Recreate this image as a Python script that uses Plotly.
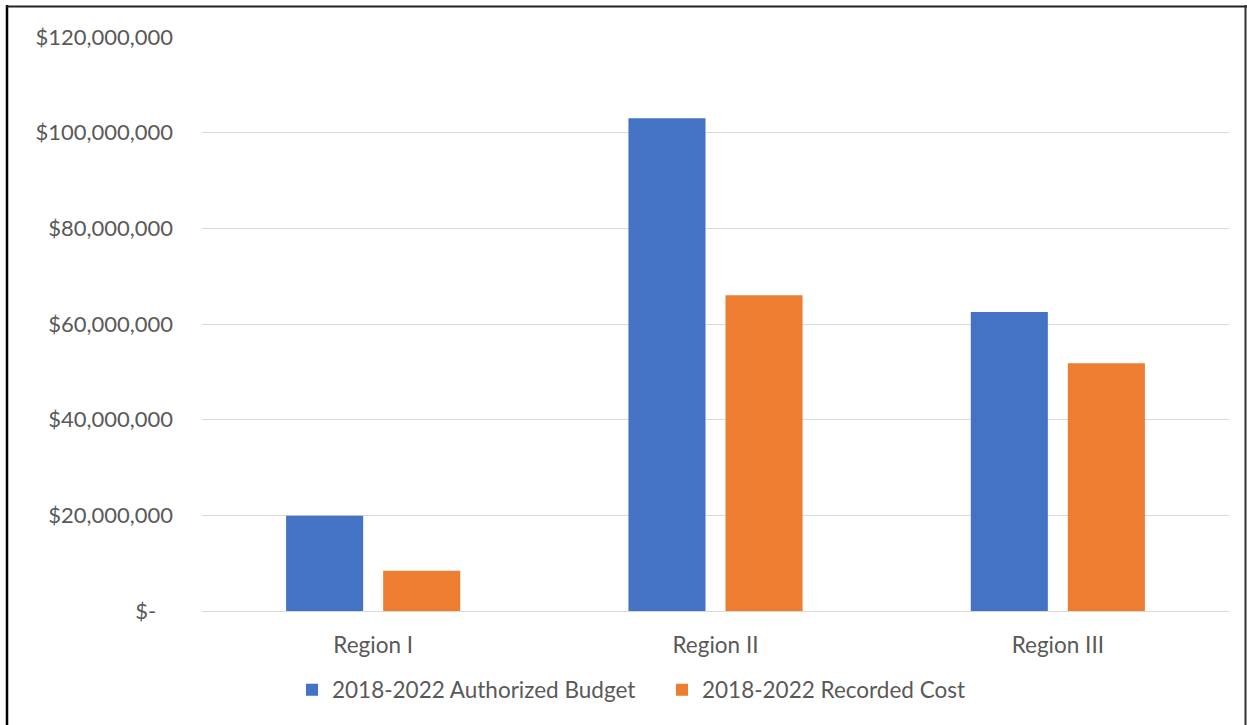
import plotly.graph_objects as go

categories = ["Region I", "Region II", "Region III"]
budget = [19.9e6, 103.0e6, 62.5e6]
cost = [8.4e6, 66.0e6, 51.8e6]
series_names = ["2018-2022 Authorized Budget", "2018-2022 Recorded Cost"]
tick_vals = [0, 20e6, 40e6, 60e6, 80e6, 100e6, 120e6]
tick_text = ["$-\u00a0\u00a0\u00a0", "$20,000,000", "$40,000,000", "$60,000,000",
             "$80,000,000", "$100,000,000", "$120,000,000"]

W, H = 1247, 725
ML, MR, MT, MB = 202, 18, 37, 114
FONT = "Lato, 'Open Sans', sans-serif"
GRAY = "#595959"

fig = go.Figure()
fig.add_trace(go.Bar(x=categories, y=budget, name=series_names[0], marker_color="#4472C4",
                     marker_line_width=0))
fig.add_trace(go.Bar(x=categories, y=cost, name=series_names[1], marker_color="#ED7D31",
                     marker_line_width=0))

pw = W - ML - MR
ph = H - MT - MB
def px(x):
    return (x - ML) / pw
def py(y):
    return (H - MB - y) / ph

shapes = [
    dict(type="line", xref="paper", yref="paper", x0=px(7), x1=px(7), y0=py(5), y1=py(H + 5),
         line=dict(color="black", width=2.5)),
    dict(type="line", xref="paper", yref="paper", x0=px(6), x1=px(1247), y0=py(6.5), y1=py(6.5),
         line=dict(color="#222222", width=2)),
    dict(type="line", xref="paper", yref="paper", x0=px(1245.5), x1=px(1245.5), y0=py(5), y1=py(H + 5),
         line=dict(color="#333333", width=2)),
]

fig.update_layout(
    width=W, height=H,
    margin=dict(l=ML, r=MR, t=MT, b=MB),
    paper_bgcolor="white", plot_bgcolor="white",
    barmode="group", bargap=0.433, bargroupgap=0.206,
    font=dict(family=FONT, size=22, color=GRAY),
    showlegend=True,
    legend=dict(orientation="h", x=px(292), xanchor="left", y=py(690), yanchor="middle",
                font=dict(family=FONT, size=22.5, color=GRAY),
                itemwidth=30, tracegroupgap=0, entrywidth=325, entrywidthmode="pixels"),
    xaxis=dict(showgrid=False, showline=False, ticks="", tickfont=dict(size=22.5, color=GRAY),
               ticklabelstandoff=18),
    yaxis=dict(range=[0, 120e6], tickvals=tick_vals, ticktext=tick_text, showgrid=True,
               gridcolor="#D9D9D9", gridwidth=1.3, zeroline=True, zerolinecolor="#D9D9D9",
               zerolinewidth=1.3, showline=False, ticks="", tickfont=dict(size=22, color=GRAY),
               ticklabelstandoff=28),
    shapes=shapes,
)

fig.write_html("out.html", config={"displayModeBar": False},
               post_script="document.body.style.margin='0px';")
